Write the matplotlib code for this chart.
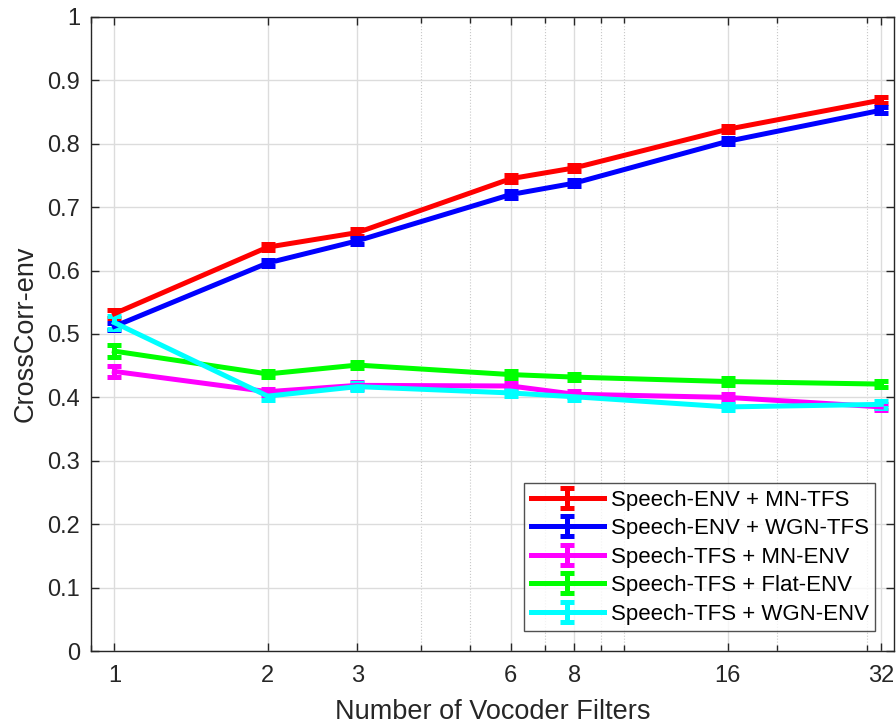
import matplotlib
matplotlib.use("Agg")
import matplotlib.pyplot as plt
from matplotlib.ticker import FixedLocator, LogLocator, NullFormatter, FixedFormatter
from matplotlib.legend_handler import HandlerErrorbar
from matplotlib.container import ErrorbarContainer

plt.rcParams['font.family'] = ['Liberation Sans', 'DejaVu Sans']

filters = [1, 2, 3, 6, 8, 16, 32]
xtick_labels = ['1', '2', '3', '6', '8', '16', '32']

env_mn = [0.532, 0.637, 0.660, 0.745, 0.762, 0.823, 0.869]
env_wgn = [0.512, 0.612, 0.647, 0.720, 0.738, 0.804, 0.853]
tfs_mn = [0.441, 0.409, 0.419, 0.418, 0.405, 0.400, 0.385]
tfs_flat = [0.473, 0.437, 0.451, 0.436, 0.432, 0.425, 0.421]
tfs_wgn = [0.518, 0.402, 0.417, 0.407, 0.401, 0.385, 0.389]

err_env_mn = [0.006, 0.005, 0.005, 0.005, 0.005, 0.005, 0.005]
err_env_wgn = [0.006, 0.005, 0.005, 0.005, 0.005, 0.005, 0.005]
err_tfs_mn = [0.009, 0.005, 0.005, 0.005, 0.005, 0.005, 0.005]
err_tfs_flat = [0.009, 0.005, 0.005, 0.005, 0.005, 0.005, 0.005]
err_tfs_wgn = [0.010, 0.006, 0.005, 0.005, 0.005, 0.005, 0.005]

labels = ['Speech-ENV + MN-TFS', 'Speech-ENV + WGN-TFS', 'Speech-TFS + MN-ENV',
          'Speech-TFS + Flat-ENV', 'Speech-TFS + WGN-ENV']
colors = ['#ff0000', '#0000ff', '#ff00ff', '#00ff00', '#00ffff']

series = [env_mn, env_wgn, tfs_mn, tfs_flat, tfs_wgn]
errs = [err_env_mn, err_env_wgn, err_tfs_mn, err_tfs_flat, err_tfs_wgn]

fig = plt.figure(figsize=(8.96, 7.25), dpi=100)
ax = fig.add_axes([91/896, 1 - 651/725, (894-91)/896, (651-17)/725])

for y, e, c, lab in zip(series, errs, colors, labels):
    ax.errorbar(filters, y, yerr=e, color=c, linewidth=3.6, elinewidth=3.6,
                capsize=5, capthick=3.6, label=lab)

ax.set_xscale('log')
ax.set_xlim(0.9, 33.9)
ax.set_ylim(0, 1)
ax.xaxis.set_major_locator(FixedLocator(filters))
ax.xaxis.set_major_formatter(FixedFormatter(xtick_labels))
ax.xaxis.set_minor_locator(LogLocator(base=10, subs=range(1, 10)))
ax.xaxis.set_minor_formatter(NullFormatter())
ax.set_yticks([i / 10 for i in range(11)])
ax.set_yticklabels(['0', '0.1', '0.2', '0.3', '0.4', '0.5', '0.6', '0.7', '0.8', '0.9', '1'])

ax.grid(True, which='major', color='#dcdcdc', linewidth=1.0)
ax.grid(True, which='minor', axis='x', color='#c8c8c8', linewidth=0.8, linestyle=':')
ax.set_axisbelow(True)

ax.tick_params(which='both', direction='in', top=True, right=True, colors='#262626',
               labelsize=17, length=6, width=1)
ax.tick_params(which='minor', length=4)
ax.tick_params(axis='x', pad=10)
ax.tick_params(axis='y', pad=8)
for s in ax.spines.values():
    s.set_color('#262626')
    s.set_linewidth(1.0)

ax.set_xlabel('Number of Vocoder Filters', fontsize=19.5, color='#262626', labelpad=9)
ax.set_ylabel('CrossCorr-env', fontsize=19.5, color='#262626', labelpad=6)

leg = ax.legend(loc='lower right', fontsize=16, frameon=True, fancybox=False,
                edgecolor='#262626', handlelength=3.3, borderaxespad=0.0,
                bbox_to_anchor=(0.976, 0.0315), labelspacing=0.34, handletextpad=0.3,
                borderpad=0.28,
                handler_map={ErrorbarContainer: HandlerErrorbar(yerr_size=0.45)})
leg.get_frame().set_linewidth(1.0)

fig.savefig('out.png', dpi=100)
